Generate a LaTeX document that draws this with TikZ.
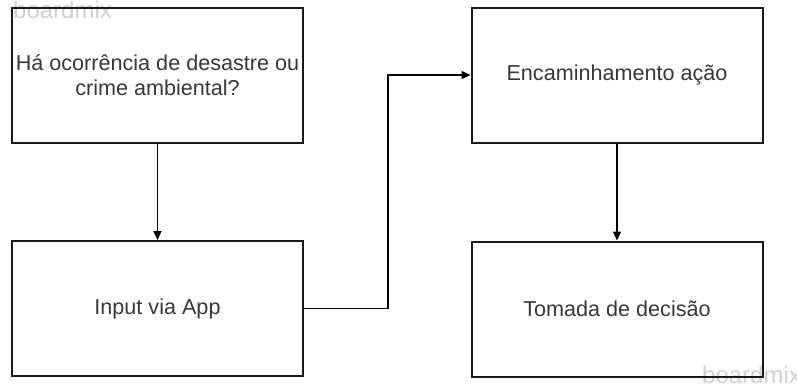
\documentclass[tikz,border=0pt]{standalone}
\usepackage{fontspec}
\setmainfont{Liberation Sans}
\usetikzlibrary{arrows.meta}
\definecolor{txt}{HTML}{383838}
\definecolor{wm}{HTML}{D0D0D0}
\tikzset{
  box/.style={draw=black!90, line width=2pt, rectangle, minimum width=291pt, minimum height=135pt, inner sep=0pt, align=center, text=txt, font=\fontsize{21.6}{25}\selectfont},
  conn/.style={draw=black, line width=1.5pt, -{Triangle[length=9pt,width=8pt]}},
  watermark/.style={text=wm, font=\fontsize{24}{24}\selectfont, inner sep=0pt, anchor=base west}
}
\begin{document}
\begin{tikzpicture}[x=1pt,y=-1pt]
\useasboundingbox (0,0) rectangle (797,383);
\clip (0,0) rectangle (797,383);
\fill[white] (0,0) rectangle (797,383);
\node[watermark] (wm1) at (13,18) {boardmix};
\node[watermark] (wm2) at (702,383) {boardmix};
\node[box] (b1) at (157.5,75) {Há ocorrência de desastre ou\\crime ambiental?};
\node[box] (b2) at (157.5,308.5) {Input via App};
\node[box] (b3) at (617,75) {Encaminhamento ação};
\node[box] (b4) at (617,309) {Tomada de decisão};
\draw[conn] (b1.south) -- (b2.north);
\draw[conn] (b2.east) -- ++(84,0) |- (b3.west);
\draw[conn] (b3.south) -- (b4.north);
\end{tikzpicture}
\end{document}
